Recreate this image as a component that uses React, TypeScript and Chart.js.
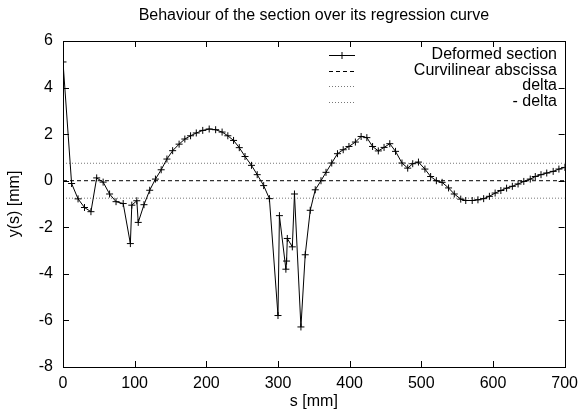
import React, { useEffect, useRef } from "react";
import { Chart, registerables } from "chart.js";

Chart.register(...registerables);

const chartTitle = "Behaviour of the section over its regression curve";
const xAxisTitle = "s [mm]";
const yAxisTitle = "y(s) [mm]";
const seriesLabels = ["Deformed section", "Curvilinear abscissa", "delta", "- delta"];

const sValues = [
  0, 12, 21, 30, 39, 47, 56, 65, 74, 84, 94, 96, 103, 105, 113, 121, 129, 137, 145, 153,
  162, 170, 178, 186, 195, 204, 213, 222, 230, 238, 246, 254, 263, 271, 280, 288, 300, 302,
  311, 312, 313, 320, 323, 332, 338, 345, 352, 360, 367, 375, 383, 391, 399, 408, 416, 424,
  432, 440, 448, 456, 464, 473, 481, 488, 496, 505, 513, 521, 529, 538, 546, 555, 562, 571,
  579, 587, 595, 603, 611, 619, 627, 635, 643, 652, 659, 667, 675, 684, 692, 700,
];
const yValues = [
  5.1, -0.12, -0.78, -1.15, -1.33, 0.12, -0.06, -0.57, -0.9, -0.98, -2.7, -1.05, -0.86, -1.79,
  -1.03, -0.41, 0.07, 0.47, 0.93, 1.29, 1.57, 1.79, 1.93, 2.05, 2.16, 2.22, 2.19, 2.09, 1.93,
  1.73, 1.42, 1.04, 0.66, 0.26, -0.21, -0.77, -5.79, -1.5, -3.8, -3.45, -2.48, -2.84, -0.57,
  -6.28, -3.18, -1.27, -0.39, 0.0, 0.36, 0.76, 1.16, 1.33, 1.47, 1.66, 1.9, 1.85, 1.47, 1.28,
  1.43, 1.59, 1.26, 0.76, 0.54, 0.73, 0.8, 0.5, 0.18, 0.0, -0.07, -0.31, -0.57, -0.79, -0.85,
  -0.85, -0.82, -0.77, -0.67, -0.53, -0.42, -0.32, -0.24, -0.14, -0.03, 0.07, 0.18, 0.26, 0.33,
  0.4, 0.5, 0.57,
];
const abscissaRange = [0, 700];
const delta = 0.75;
const xTickValues = [0, 100, 200, 300, 400, 500, 600, 700];
const yTickValues = [-8, -6, -4, -2, 0, 2, 4, 6];

const FONT = '"Liberation Sans", Arial, Helvetica, sans-serif';
const FS = 16;

const decorPlugin = {
  id: "gnuplotDecor",
  afterDraw(chart: any) {
    const ctx = chart.ctx as CanvasRenderingContext2D;
    const a = chart.chartArea;
    const xs = chart.scales.x;
    const ys = chart.scales.y;
    ctx.save();
    ctx.strokeStyle = "#000";
    ctx.lineWidth = 1;
    ctx.setLineDash([]);
    ctx.strokeRect(Math.round(a.left) + 0.5, Math.round(a.top) + 0.5, Math.round(a.right - a.left), Math.round(a.bottom - a.top));
    const tl = 6;
    ctx.beginPath();
    xTickValues.forEach((v) => {
      const px = Math.round(xs.getPixelForValue(v)) + 0.5;
      ctx.moveTo(px, a.bottom);
      ctx.lineTo(px, a.bottom - tl);
      ctx.moveTo(px, a.top);
      ctx.lineTo(px, a.top + tl);
    });
    yTickValues.forEach((v) => {
      const py = Math.round(ys.getPixelForValue(v)) + 0.5;
      ctx.moveTo(a.left, py);
      ctx.lineTo(a.left + tl, py);
      ctx.moveTo(a.right, py);
      ctx.lineTo(a.right - tl, py);
    });
    ctx.stroke();

    ctx.fillStyle = "#000";
    ctx.font = `${FS}px ${FONT}`;
    ctx.textAlign = "center";
    ctx.textBaseline = "middle";
    const cx = (a.left + a.right) / 2;
    ctx.fillText(chartTitle, cx, 16);
    ctx.fillText(xAxisTitle, cx, 402);
    ctx.save();
    ctx.translate(15, (a.top + a.bottom) / 2);
    ctx.rotate(-Math.PI / 2);
    ctx.fillText(yAxisTitle, 0, 0);
    ctx.restore();

    // legend
    const rowY = [55, 70.5, 86, 101.5];
    const sx0 = 329;
    const sx1 = 355;
    const textRight = 557;
    chart.data.datasets.forEach((ds: any, i: number) => {
      const y = Math.round(rowY[i]) + 0.5;
      ctx.strokeStyle = ds.borderColor;
      ctx.lineWidth = 1;
      ctx.setLineDash(ds.borderDash || []);
      ctx.beginPath();
      ctx.moveTo(sx0, y);
      ctx.lineTo(sx1, y);
      ctx.stroke();
      ctx.setLineDash([]);
      if (i === 0) {
        const mx = (sx0 + sx1) / 2;
        ctx.beginPath();
        ctx.moveTo(mx, y - 3.5);
        ctx.lineTo(mx, y + 3.5);
        ctx.stroke();
      }
      ctx.fillStyle = "#000";
      ctx.textAlign = "right";
      ctx.textBaseline = "middle";
      ctx.fillText(ds.label, textRight, rowY[i]);
    });
    ctx.restore();
  },
};

export default function App() {
  const ref = useRef<HTMLCanvasElement | null>(null);
  useEffect(() => {
    if (!ref.current) return;
    const mainPts = sValues.map((s, i) => ({ x: s, y: yValues[i] }));
    const zeroPts = abscissaRange.map((s) => ({ x: s, y: 0 }));
    const upPts = abscissaRange.map((s) => ({ x: s, y: delta }));
    const downPts = abscissaRange.map((s) => ({ x: s, y: -delta }));
    const chart = new Chart(ref.current, {
      type: "line",
      data: {
        datasets: [
          {
            label: seriesLabels[0],
            data: mainPts,
            borderColor: "#000",
            backgroundColor: "#000",
            borderWidth: 1,
            pointStyle: "cross",
            pointRadius: 3.5,
            pointBorderWidth: 1,
            pointBorderColor: "#000",
            tension: 0,
          },
          {
            label: seriesLabels[1],
            data: zeroPts,
            borderColor: "#000",
            borderWidth: 1,
            borderDash: [4, 3],
            pointRadius: 0,
          },
          {
            label: seriesLabels[2],
            data: upPts,
            borderColor: "#777",
            borderWidth: 1,
            borderDash: [1, 2],
            pointRadius: 0,
          },
          {
            label: seriesLabels[3],
            data: downPts,
            borderColor: "#777",
            borderWidth: 1,
            borderDash: [1, 2],
            pointRadius: 0,
          },
        ],
      },
      options: {
        animation: false,
        responsive: false,
        maintainAspectRatio: false,
        events: [],
        layout: { padding: { top: 41, right: 18, left: 0, bottom: 0 } },
        plugins: { legend: { display: false }, title: { display: false }, tooltip: { enabled: false } },
        scales: {
          x: {
            type: "linear",
            min: 0,
            max: 700,
            afterFit: (s: any) => {
              s.height = 49;
            },
            afterBuildTicks: (s: any) => {
              s.ticks = xTickValues.map((v) => ({ value: v }));
            },
            grid: { display: false, drawTicks: false },
            border: { display: false },
            ticks: { color: "#000", font: { family: FONT, size: FS }, padding: 7, maxRotation: 0 },
          },
          y: {
            type: "linear",
            min: -8,
            max: 6,
            afterFit: (s: any) => {
              s.width = 63;
            },
            afterBuildTicks: (s: any) => {
              s.ticks = yTickValues.map((v) => ({ value: v }));
            },
            grid: { display: false, drawTicks: false },
            border: { display: false },
            ticks: { color: "#000", font: { family: FONT, size: FS }, padding: 10 },
          },
        },
      },
      plugins: [decorPlugin],
    });
    return () => chart.destroy();
  }, []);
  return (
    <div style={{ position: "fixed", left: 0, top: 0, width: 585, height: 416, background: "#fff" }}>
      <canvas ref={ref} width={585} height={416} style={{ width: 585, height: 416 }} />
    </div>
  );
}
